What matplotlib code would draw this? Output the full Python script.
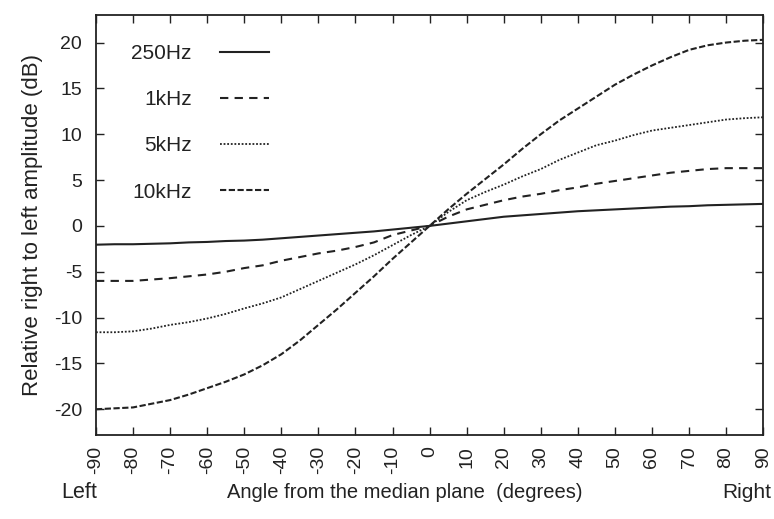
import matplotlib
matplotlib.use("Agg")
import matplotlib.pyplot as plt
import numpy as np

plt.rcParams["font.family"] = ["Liberation Sans", "DejaVu Sans"]
plt.rcParams["axes.unicode_minus"] = False

# angle from median plane (deg), read every 5 degrees
angles = list(range(-90, 91, 5))
hz250 = [-2.05, -2.0, -2.0, -1.95, -1.9, -1.8, -1.75, -1.65, -1.6, -1.5,
         -1.35, -1.2, -1.05, -0.9, -0.75, -0.6, -0.4, -0.2, 0.0,
         0.25, 0.5, 0.75, 1.0, 1.15, 1.3, 1.45, 1.6, 1.7, 1.8,
         1.9, 2.0, 2.1, 2.15, 2.25, 2.3, 2.35, 2.4]
khz1 = [-6.0, -6.0, -6.0, -5.85, -5.7, -5.5, -5.3, -5.0, -4.6, -4.3,
        -3.8, -3.4, -3.0, -2.7, -2.3, -1.8, -1.0, -0.5, 0.0,
        1.0, 1.8, 2.3, 2.8, 3.2, 3.5, 3.9, 4.2, 4.6, 4.9,
        5.2, 5.5, 5.8, 6.0, 6.2, 6.3, 6.3, 6.3]
khz5 = [-11.6, -11.6, -11.5, -11.2, -10.8, -10.5, -10.1, -9.6, -9.0, -8.45,
        -7.8, -6.9, -6.0, -5.1, -4.2, -3.2, -2.1, -1.0, 0.0,
        1.5, 2.8, 3.7, 4.5, 5.4, 6.2, 7.2, 8.0, 8.8, 9.3,
        9.9, 10.4, 10.7, 11.0, 11.3, 11.6, 11.75, 11.85]
khz10 = [-20.0, -19.9, -19.8, -19.4, -19.0, -18.4, -17.7, -17.0, -16.2, -15.2,
         -14.0, -12.5, -10.8, -9.1, -7.3, -5.5, -3.6, -1.8, 0.0,
         1.8, 3.5, 5.1, 6.7, 8.4, 10.0, 11.5, 12.8, 14.1, 15.4,
         16.5, 17.5, 18.4, 19.2, 19.7, 20.0, 20.2, 20.3]

xticks = list(range(-90, 91, 10))
yticks = [-20, -15, -10, -5, 0, 5, 10, 15, 20]

fig = plt.figure(figsize=(7.74, 5.19), dpi=100)
ax = fig.add_axes([0.124, 0.162, 0.862, 0.809])

ink = "#222222"
ax.plot(angles, hz250, color=ink, lw=1.5, ls="-", label="250Hz")
ax.plot(angles, khz1, color=ink, lw=1.5, ls=(0, (4, 3)), label="1kHz")
ax.plot(angles, khz5, color=ink, lw=1.3, ls=(0, (1, 1)), label="5kHz")
ax.plot(angles, khz10, color=ink, lw=1.5, ls=(0, (3, 1.2)), label="10kHz")

ax.set_xlim(-90, 90)
ax.set_ylim(-22.8, 23.0)
ax.set_xticks(xticks)
ax.set_yticks(yticks)
ax.tick_params(direction="in", length=6, width=1, top=True, right=True,
               labelsize=14, colors=ink)
ax.tick_params(axis="y", pad=10)
ax.tick_params(axis="x", labelrotation=90, pad=8)
for s in ax.spines.values():
    s.set_linewidth(1.3)
    s.set_color(ink)

ax.set_ylabel("Relative right to left amplitude (dB)", fontsize=16, color=ink, labelpad=8)
ax.set_xlabel("Angle from the median plane  (degrees)", fontsize=14.5, color=ink, va="center")
ax.xaxis.set_label_coords(0.463, -0.138)
ax.text(-0.052, -0.138, "Left", transform=ax.transAxes, fontsize=15.5, color=ink,
        ha="left", va="center")
ax.text(1.012, -0.138, "Right", transform=ax.transAxes, fontsize=15, color=ink,
        ha="right", va="center")

leg = ax.legend(loc="upper left", bbox_to_anchor=(0.025, 0.975), frameon=False,
                markerfirst=False, fontsize=15, handlelength=2.35,
                labelspacing=1.3, handletextpad=1.35)
for t in leg.get_texts():
    t.set_color(ink)

fig.savefig("out.png", dpi=100)
